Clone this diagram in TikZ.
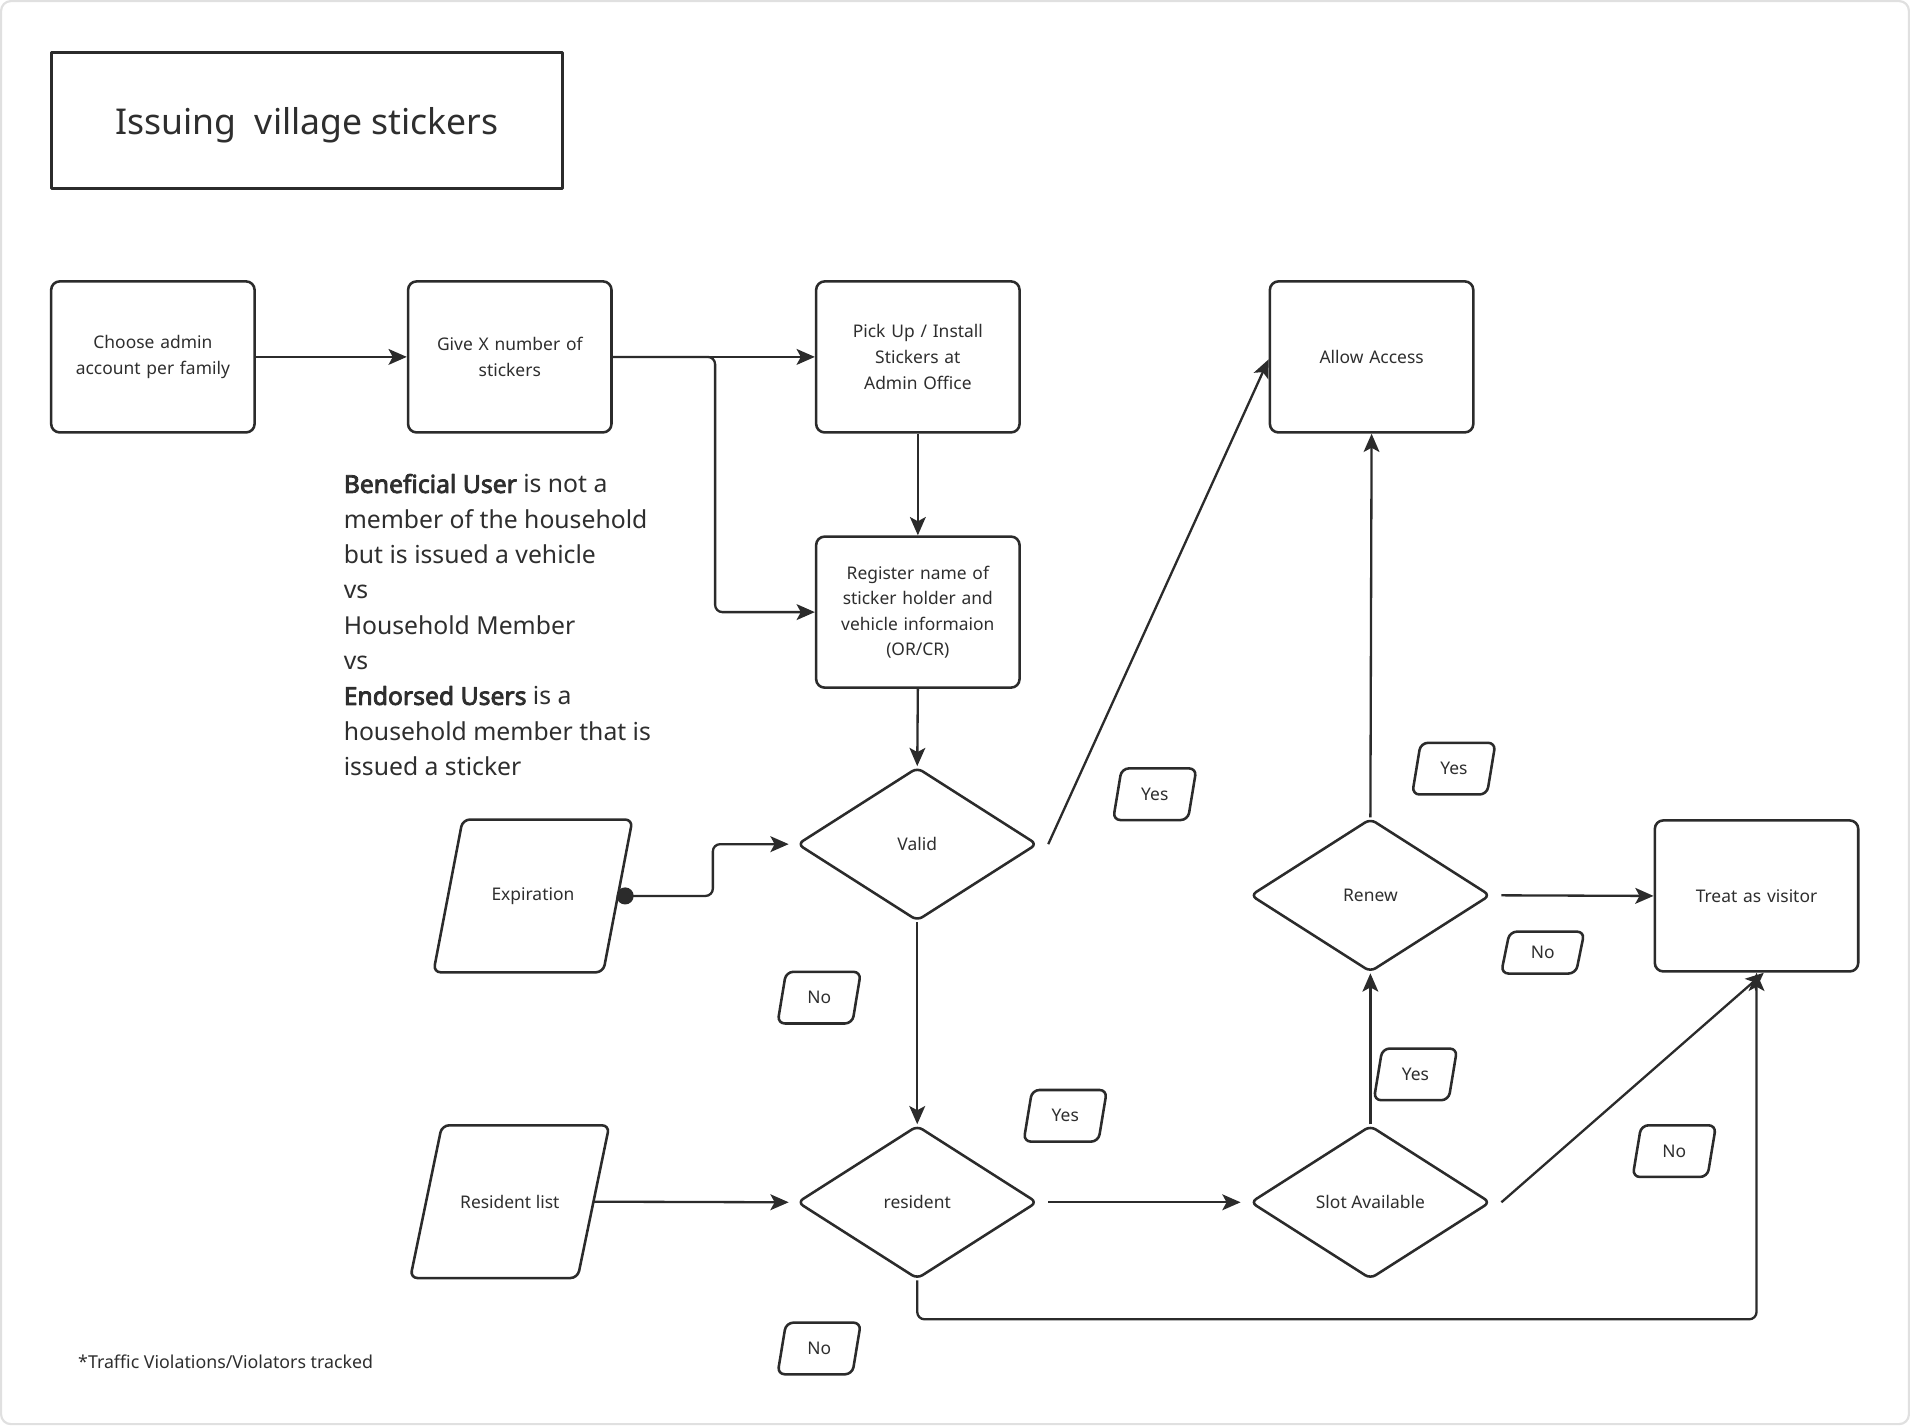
\documentclass[tikz,border=0pt]{standalone}
\usepackage{fontspec}
\setmainfont{Noto Sans}[AutoFakeBold=3.2]
\usetikzlibrary{shapes.geometric,arrows.meta,calc}
\definecolor{ink}{HTML}{2B2B2B}
\definecolor{txt}{HTML}{2E2E2E}
\definecolor{framegray}{HTML}{E0E0E0}
\newcommand{\slantshape}[2]{%
  \draw[shapeline, rounded corners=6pt] ($(#1.north west)+(#2,0)$) -- (#1.north east) -- ($(#1.south east)+(-#2,0)$) -- (#1.south west) -- cycle;}
\begin{document}
\begin{tikzpicture}[x=1pt,y=-1pt, line join=round,
  shapeline/.style={draw=ink, line width=2.1pt},
  box/.style={shapeline, rounded corners=7pt, minimum width=167pt, minimum height=124pt,
    text width=150pt, align=center, font=\fontsize{14.3}{21}\selectfont, text=txt, inner sep=0pt},
  dia/.style={shapeline, diamond, rounded corners=5pt, minimum width=197pt, minimum height=126pt,
    inner sep=0pt, font=\fontsize{14.3}{21}\selectfont, text=txt},
  para/.style={minimum width=163pt, minimum height=125pt, inner sep=0pt,
    font=\fontsize{14.3}{21}\selectfont, text=txt},
  lbl/.style={minimum width=68pt, minimum height=42pt, inner sep=0pt,
    font=\fontsize{14.3}{21}\selectfont, text=txt},
  conn/.style={draw=ink, line width=1.9pt, -{Stealth[length=15pt,width=13pt,inset=3.5pt]}},
]
\useasboundingbox (0,0) rectangle (1568,1170);
\draw[framegray, line width=1.8pt, rounded corners=8pt] (0.9,0.9) rectangle (1567.1,1169.1);

% title
\node[draw=ink, line width=2.2pt, minimum width=420pt, minimum height=112pt, inner sep=0pt, text depth=0pt,
  font=\fontsize{29.2}{34}\selectfont, text=txt] (title) at (252,99) {Issuing\ \ village stickers};

% boxes
\node[box] (A) at (125.5,293) {Choose admin\\account per family};
\node[box] (B) at (418.5,293) {Give X number of\\stickers};
\node[box] (C) at (753.5,293) {Pick Up / Install\\Stickers at\\Admin Office};
\node[box] (D) at (753.5,502.5) {Register name of\\sticker holder and\\vehicle informaion\\(OR/CR)};
\node[box] (allow) at (1126,293) {Allow Access};
\node[box] (treat) at (1442,735.5) {Treat as visitor};

% diamonds
\node[dia] (valid) at (753,693) {Valid};
\node[dia] (renew) at (1125,735) {Renew};
\node[dia] (res) at (753,987) {resident};
\node[dia] (slot) at (1125,987) {Slot Available};

% data shapes
\node[para] (exp) at (437.5,735.5) {Expiration};
\slantshape{exp}{24}
\node[para] (rlist) at (418.5,986.5) {Resident list};
\slantshape{rlist}{26}

% labels
\node[lbl] (y1) at (948,652) {Yes};
\slantshape{y1}{7}
\node[lbl] (y2) at (1193.5,631) {Yes};
\slantshape{y2}{7}
\node[lbl] (n1) at (672.5,819) {No};
\slantshape{n1}{7}
\node[lbl, minimum height=34pt] (n2) at (1266.5,782) {No};
\slantshape{n2}{7}
\node[lbl] (y3) at (874.5,916) {Yes};
\slantshape{y3}{7}
\node[lbl] (y4) at (1162,882) {Yes};
\slantshape{y4}{7}
\node[lbl] (n3) at (1374.5,945) {No};
\slantshape{n3}{7}
\node[lbl] (n4) at (672.5,1107) {No};
\slantshape{n4}{7}

% notes
\node[anchor=west, align=left, inner sep=0pt, text=txt, font=\fontsize{20.3}{29}\selectfont] (note) at (282,513)
 {\textbf{Beneficial User} is not a\\member of the household\\but is issued a vehicle\\vs\\Household Member\\vs\\\textbf{Endorsed Users} is a\\household member that is\\issued a sticker};
\node[anchor=west, inner sep=0pt, text=txt, font=\fontsize{14.6}{18}\selectfont] (foot) at (64,1118)
 {*Traffic Violations/Violators tracked};

% connectors
\draw[conn] (A.east) -- (B.west);
\draw[conn] (B.east) -- (C.west);
\draw[conn, rounded corners=6pt] (B.east) -- ++(84,0) |- (D.west);
\draw[conn] (C.south) -- (D.north);
\draw[conn] (D.south) -- (valid.north);
\draw[draw=ink, line width=1.9pt, {Circle[length=14pt,width=14pt]}-{Stealth[length=15pt,width=13pt,inset=3.5pt]}, rounded corners=6pt]
  ($(exp.east)+(-13,0)$) -- ++(79,0) |- ($(valid.west)+(-6,0)$);
\draw[conn] ($(valid.east)+(8,0)$) -- ($(allow.west)+(0,2)$);
\draw[conn] (valid.south) -- (res.north);
\draw[conn] ($(rlist.east)+(-13,0)$) -- ($(res.west)+(-6,0)$);
\draw[conn] ($(res.east)+(8,0)$) -- ($(slot.west)+(-7,0)$);
\draw[conn] (slot.north) -- (renew.south);
\draw[conn] (renew.north) -- (allow.south);
\draw[conn] ($(renew.east)+(8,0)$) -- (treat.west);
\draw[conn] ($(slot.east)+(8,0)$) -- ($(treat.south)+(6,0)$);
\draw[conn, rounded corners=6pt] (res.south) -- ++(0,32) -| (treat.south);
\end{tikzpicture}
\end{document}
